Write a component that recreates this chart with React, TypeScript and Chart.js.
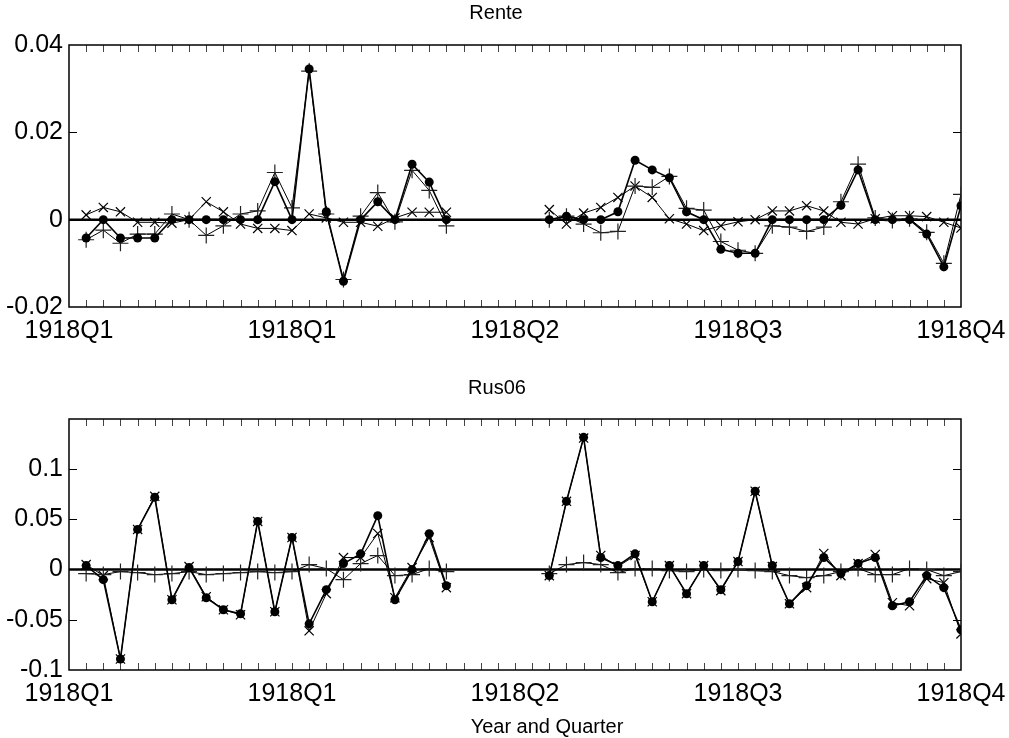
import React, { useEffect, useRef } from "react";
import { Chart, registerables } from "chart.js";

Chart.register(...registerables);

// ---------- data ----------
const N = 52; // observation slots (index 0..51)
const xTickPos = [-1, 12, 25, 38, 51];
const xTickLabels = ["1918Q1", "1918Q1", "1918Q2", "1918Q3", "1918Q4"];
const gap = [null, null, null, null, null];

// Rente panel
const renteDots = [
  -0.0042, 0, -0.0042, -0.0042, -0.0042, 0, 0, 0, 0, 0, 0, 0.0087, 0, 0.0345, 0.0018, -0.0141, 0, 0.0041, 0, 0.0127, 0.0086, 0,
  ...gap,
  0, 0.0008, 0, 0, 0.0018, 0.0136, 0.0114, 0.0096, 0.0018, 0, -0.0068, -0.0077, -0.0077, 0, 0, 0, 0, 0.0033, 0.0114, 0, 0, 0, -0.0033, -0.0108, 0.0032,
];
const rentePlus = [
  -0.0046, -0.0024, -0.0054, -0.0033, -0.0033, 0.0013, 0, -0.0036, -0.0014, 0.0013, 0.002, 0.0108, 0.0027, 0.034, 0.0013, -0.0137, 0.0008, 0.0062, -0.0005, 0.0113, 0.0067, -0.0014,
  ...gap,
  0, 0.0008, -0.001, -0.003, -0.0027, 0.0077, 0.0074, 0.0099, 0.0026, 0.0022, -0.005, -0.007, -0.0077, -0.0014, -0.0017, -0.0027, -0.0017, 0.0041, 0.0127, 0.0004, -0.0002, 0.0002, -0.0029, -0.01, 0.0058,
];
const renteCross = [
  0.0011, 0.0028, 0.0018, -0.0006, -0.0006, -0.0008, 0, 0.0041, 0.0018, -0.001, -0.002, -0.002, -0.0025, 0.0013, 0.0004, -0.0006, -0.0006, -0.0015, 0.0004, 0.0017, 0.0017, 0.0017,
  ...gap,
  0.0023, -0.001, 0.0015, 0.0028, 0.0051, 0.0077, 0.0051, 0.0002, -0.001, -0.0025, -0.0014, -0.0005, 0, 0.002, 0.002, 0.0032, 0.002, -0.0006, -0.001, 0.0002, 0.0009, 0.0009, 0.0007, -0.0006, -0.0019,
];
const renteYTicks = [-0.02, 0, 0.02, 0.04];
const renteYLabels = ["-0.02", "0", "0.02", "0.04"];

// Rus06 panel
const rusDots = [
  0.004, -0.01, -0.089, 0.04, 0.072, -0.03, 0.002, -0.028, -0.04, -0.044, 0.048, -0.042, 0.032, -0.054, -0.02, 0.006, 0.0157, 0.0537, -0.03, 0, 0.0357, -0.016,
  ...gap,
  -0.006, 0.068, 0.1317, 0.012, 0.004, 0.0157, -0.032, 0.004, -0.024, 0.004, -0.02, 0.008, 0.078, 0.004, -0.034, -0.016, 0.012, -0.004, 0.006, 0.012, -0.036, -0.032, -0.006, -0.018, -0.06,
];
const rusPlus = [
  -0.004, -0.005, -0.002, -0.003, -0.005, -0.004, -0.002, -0.005, -0.004, -0.003, -0.002, -0.003, -0.002, 0.005, 0.001, -0.01, 0.006, 0.014, -0.006, -0.005, 0.001, -0.002,
  ...gap,
  -0.004, 0.005, 0.007, 0.005, -0.003, 0.001, 0.001, -0.001, -0.002, 0, -0.001, 0, -0.001, -0.002, -0.006, -0.008, -0.006, -0.002, 0.001, -0.005, -0.005, 0.001, 0, -0.006, -0.002,
];
const rusCross = [
  0.005, -0.006, -0.089, 0.04, 0.073, -0.03, 0.003, -0.027, -0.04, -0.045, 0.048, -0.042, 0.032, -0.061, -0.024, 0.012, 0.012, 0.036, -0.028, 0.002, 0.032, -0.018,
  ...gap,
  -0.006, 0.068, 0.131, 0.014, 0.003, 0.014, -0.032, 0.004, -0.024, 0.004, -0.021, 0.008, 0.078, 0.003, -0.034, -0.018, 0.016, -0.006, 0.006, 0.015, -0.033, -0.036, -0.009, -0.013, -0.064,
];
const rusYTicks = [-0.1, -0.05, 0, 0.05, 0.1];
const rusYLabels = ["-0.1", "-0.05", "0", "0.05", "0.1"];

const FONT = "'Liberation Sans', Arial, sans-serif";

const framePlugin = {
  id: "frame",
  beforeDatasetsDraw(chart: any, _args: any, opts: any) {
    const { ctx, chartArea: a, scales } = chart;
    const x = scales.x;
    const y = scales.y;
    ctx.save();
    // zero line
    const y0 = y.getPixelForValue(0);
    ctx.strokeStyle = "#000";
    ctx.lineWidth = 2.5;
    ctx.beginPath();
    ctx.moveTo(a.left, y0);
    ctx.lineTo(a.right, y0);
    ctx.stroke();
    // inward ticks top & bottom
    ctx.strokeStyle = "#444";
    ctx.lineWidth = 1;
    ctx.beginPath();
    for (let k = 0; k < N - 1; k++) {
      const px = Math.round(x.getPixelForValue(k)) + 0.5;
      ctx.moveTo(px, a.top);
      ctx.lineTo(px, a.top + 7);
      ctx.moveTo(px, a.bottom);
      ctx.lineTo(px, a.bottom - 7);
    }
    ctx.stroke();
    // inward y ticks left & right
    ctx.strokeStyle = "#000";
    ctx.beginPath();
    (opts.yTicks || []).forEach((v: number) => {
      if (v === 0) return;
      const py = Math.round(y.getPixelForValue(v)) + 0.5;
      if (py <= a.top + 1 || py >= a.bottom - 1) return;
      ctx.moveTo(a.left, py);
      ctx.lineTo(a.left + 8, py);
      ctx.moveTo(a.right, py);
      ctx.lineTo(a.right - 8, py);
    });
    ctx.stroke();
    // frame
    ctx.lineWidth = 1.5;
    ctx.strokeRect(a.left, a.top, a.right - a.left, a.bottom - a.top);
    ctx.restore();
  },
  afterDraw(chart: any, _args: any, opts: any) {
    const { ctx } = chart;
    ctx.save();
    ctx.fillStyle = "#000";
    ctx.font = `20px ${FONT}`;
    ctx.textAlign = "center";
    ctx.textBaseline = "middle";
    (opts.texts || []).forEach((t: any) => ctx.fillText(t.text, t.x, t.y));
    ctx.restore();
  },
};

function toXY(arr: (number | null)[]) {
  return arr.map((v, i) => ({ x: i, y: v }));
}

type PanelProps = {
  texts: { text: string; x: number; y: number }[];
  dots: (number | null)[];
  plus: (number | null)[];
  cross: (number | null)[];
  yMin: number;
  yMax: number;
  yTicks: number[];
  yLabels: string[];
  top: number;
  height: number;
  padTop: number;
  xAxisHeight: number;
};

function Panel(p: PanelProps) {
  const ref = useRef<HTMLCanvasElement>(null);
  useEffect(() => {
    if (!ref.current) return;
    const chart = new Chart(ref.current, {
      type: "line",
      data: {
        datasets: [
          {
            label: "a",
            data: toXY(p.dots) as any,
            borderColor: "#000",
            backgroundColor: "#000",
            borderWidth: 1.6,
            pointStyle: "circle",
            pointRadius: 4.5,
            pointBorderWidth: 0,
            spanGaps: false,
            tension: 0,
          },
          {
            label: "b",
            data: toXY(p.plus) as any,
            borderColor: "#000",
            backgroundColor: "#000",
            borderWidth: 1,
            pointStyle: "cross",
            pointRadius: 8,
            pointBorderWidth: 1.2,
            pointBorderColor: "#222",
            spanGaps: false,
            tension: 0,
          },
          {
            label: "c",
            data: toXY(p.cross) as any,
            borderColor: "#000",
            backgroundColor: "#000",
            borderWidth: 1,
            pointStyle: "crossRot",
            pointRadius: 6.5,
            pointBorderWidth: 1.2,
            spanGaps: false,
            tension: 0,
          },
        ],
      },
      options: {
        animation: false,
        responsive: false,
        maintainAspectRatio: false,
        layout: { padding: { left: 0, right: 48, top: p.padTop, bottom: 0 } },
        plugins: {
          legend: { display: false },
          tooltip: { enabled: false },
          title: { display: false },
          frame: { yTicks: p.yTicks, texts: p.texts },
        } as any,
        scales: {
          x: {
            type: "linear",
            min: -1,
            max: N - 1,
            grid: { display: false, drawTicks: false },
            border: { display: false },
            afterBuildTicks: (s: any) => {
              s.ticks = xTickPos.map((v) => ({ value: v }));
            },
            afterFit: (s: any) => {
              s.height = p.xAxisHeight;
              s.paddingLeft = 0;
              s.paddingRight = 0;
            },
            ticks: {
              autoSkip: false,
              maxRotation: 0,
              minRotation: 0,
              padding: 9,
              color: "#000",
              font: { family: FONT, size: 25 },
              callback: (_v: any, i: number) => xTickLabels[i],
            },
          },
          y: {
            type: "linear",
            min: p.yMin,
            max: p.yMax,
            grid: { display: false, drawTicks: false },
            border: { display: false },
            afterBuildTicks: (s: any) => {
              s.ticks = p.yTicks.map((v) => ({ value: v }));
            },
            afterFit: (s: any) => {
              s.width = 69;
              s.paddingTop = 0;
              s.paddingBottom = 0;
            },
            ticks: {
              padding: 6,
              color: "#000",
              font: { family: FONT, size: 25 },
              callback: (_v: any, i: number) => p.yLabels[i],
            },
          },
        },
      },
      plugins: [framePlugin as any],
    });
    return () => chart.destroy();
  }, []);
  return (
    <canvas
      ref={ref}
      width={1009}
      height={p.height}
      style={{ position: "absolute", left: 0, top: p.top, width: 1009, height: p.height, display: "block" }}
    />
  );
}

export default function App() {
  return (
    <div style={{ position: "absolute", left: 0, top: 0, width: 1009, height: 738, background: "#fff" }}>
      <Panel
        texts={[{ text: "Rente", x: 496, y: 13 }]}
        dots={renteDots}
        plus={rentePlus}
        cross={renteCross}
        yMin={-0.02}
        yMax={0.04}
        yTicks={renteYTicks}
        yLabels={renteYLabels}
        top={0}
        height={350}
        padTop={45}
        xAxisHeight={43}
      />
      <Panel
        texts={[
          { text: "Rus06", x: 497, y: 38 },
          { text: "Year and Quarter", x: 547, y: 377 },
        ]}
        dots={rusDots}
        plus={rusPlus}
        cross={rusCross}
        yMin={-0.1}
        yMax={0.15}
        yTicks={rusYTicks}
        yLabels={rusYLabels}
        top={350}
        height={388}
        padTop={69}
        xAxisHeight={68}
      />
    </div>
  );
}
